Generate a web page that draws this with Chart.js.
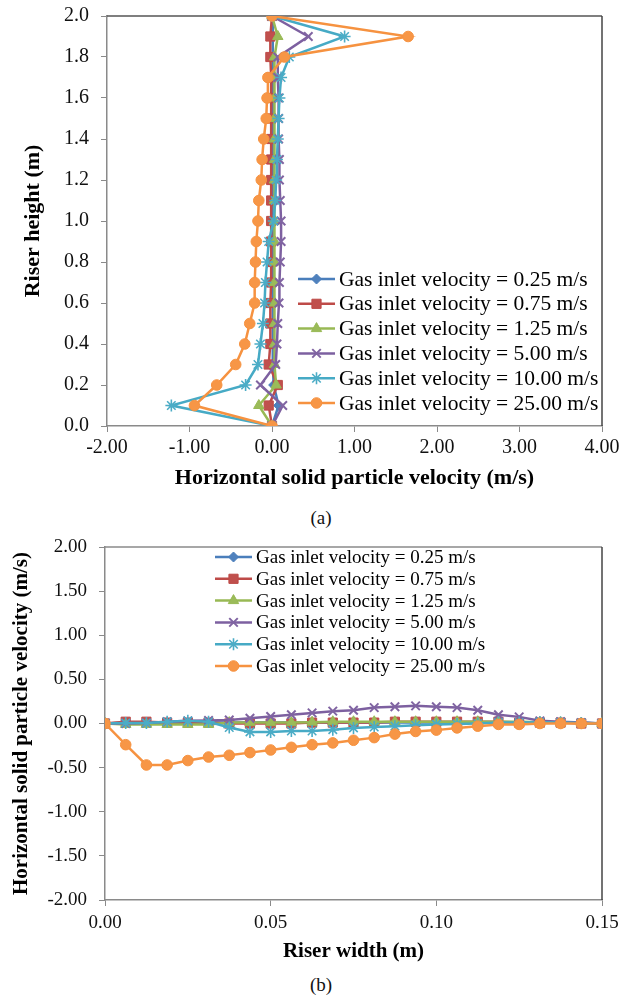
<!DOCTYPE html>
<html>
<head>
<meta charset="utf-8">
<script src="https://cdn.jsdelivr.net/npm/chart.js@4/dist/chart.umd.min.js"></script>
<style>
  html, body { margin: 0; padding: 0; background: #fff; }
  body { width: 637px; height: 1002px; position: relative; overflow: hidden;
         font-family: "Liberation Serif", "Times New Roman", serif; }
  canvas { position: absolute; left: 0; }
  #riserHeight { top: 0; }
  #riserWidth { top: 530px; }
  .cap { position: absolute; left: 0; width: 642px; text-align: center; font-size: 19px; color: #111; line-height: 20px; }
</style>
</head>
<body>
<canvas id="riserHeight" width="637" height="505"></canvas>
<div class="cap" style="top:508px">(a)</div>
<canvas id="riserWidth" width="637" height="440"></canvas>
<div class="cap" style="top:975px">(b)</div>

<script>
// ---- (a) horizontal particle velocity along the riser height ----
const heights = [0.0, 0.1, 0.2, 0.3, 0.4, 0.5, 0.6, 0.7, 0.8, 0.9, 1.0,
                 1.1, 1.2, 1.3, 1.4, 1.5, 1.6, 1.7, 1.8, 1.9, 2.0];
const heightV025 = [0, 0.08, 0.02, 0.01, 0.01, 0.01, 0.01, 0.01, 0.01, 0.01, 0.01,
                    0.01, 0.01, 0.01, 0.01, 0.01, 0.01, 0.01, 0.01, 0.01, 0];
const heightV075 = [0, -0.04, 0.07, -0.04, -0.02, -0.02, -0.02, -0.01, -0.01, -0.01, -0.01,
                    -0.01, -0.01, -0.01, -0.01, -0.01, -0.01, -0.01, -0.02, -0.02, 0];
const heightV125 = [0, -0.16, 0.05, 0.03, 0.03, 0.03, 0.03, 0.03, 0.03, 0.03, 0.03,
                    0.03, 0.03, 0.03, 0.03, 0.03, 0.03, 0.03, 0.03, 0.07, 0];
const heightV500 = [0, 0.13, -0.14, 0.045, 0.06, 0.07, 0.085, 0.09, 0.10, 0.11, 0.11,
                    0.10, 0.09, 0.09, 0.08, 0.08, 0.08, 0.07, 0.07, 0.44, 0];
const heightV1000 = [0, -1.22, -0.32, -0.17, -0.14, -0.11, -0.09, -0.08, -0.06, -0.04, 0.02,
                     0.04, 0.05, 0.06, 0.07, 0.08, 0.09, 0.11, 0.21, 0.88, 0];
const heightV2500 = [0, -0.94, -0.67, -0.44, -0.33, -0.27, -0.21, -0.21, -0.20, -0.19, -0.17,
                     -0.16, -0.13, -0.12, -0.10, -0.07, -0.06, -0.05, 0.15, 1.65, 0];

// ---- (b) horizontal particle velocity across the riser width ----
const widths = [0, 0.00625, 0.0125, 0.01875, 0.025, 0.03125, 0.0375, 0.04375, 0.05,
                0.05625, 0.0625, 0.06875, 0.075, 0.08125, 0.0875, 0.09375, 0.1,
                0.10625, 0.1125, 0.11875, 0.125, 0.13125, 0.1375, 0.14375, 0.15];
const widthV025 = [0, 0.01, 0.01, 0.01, 0.01, 0.01, 0.01, 0.01, 0.01, 0.01, 0.01, 0.01, 0.01,
                   0.01, 0.01, 0.01, 0.01, 0.01, 0.01, 0.01, 0.01, 0.01, 0.01, 0.01, 0];
const widthV075 = [0, 0.02, 0.02, 0.01, 0.01, 0.01, 0, 0, 0, 0, 0.01, 0.01, 0.01,
                   0.01, 0.02, 0.02, 0.02, 0.02, 0.02, 0.02, 0.01, 0.01, 0.01, 0, 0];
const widthV125 = [0, -0.01, -0.01, -0.01, -0.01, -0.01, 0.01, 0.01, 0.01, 0.01, 0.015, 0.02, 0.02,
                   0.02, 0.02, 0.02, 0.02, 0.02, 0.02, 0.02, 0.02, 0.015, 0.01, 0.005, 0];
const widthV500 = [0, 0, 0.005, 0.02, 0.03, 0.035, 0.04, 0.06, 0.08, 0.10, 0.12, 0.14, 0.15,
                   0.18, 0.19, 0.20, 0.19, 0.18, 0.15, 0.10, 0.075, 0.03, 0.02, 0.01, 0];
const widthV1000 = [0, 0.005, 0.005, 0.02, 0.03, 0.02, -0.045, -0.095, -0.095, -0.085, -0.085, -0.07, -0.05,
                    -0.04, -0.03, -0.02, -0.01, -0.005, 0, 0.01, 0.01, 0.015, 0.01, 0.005, 0];
const widthV2500 = [0, -0.24, -0.47, -0.47, -0.42, -0.38, -0.36, -0.33, -0.30, -0.27, -0.24, -0.22, -0.19,
                    -0.16, -0.12, -0.09, -0.075, -0.05, -0.03, -0.01, -0.01, 0, 0, 0, 0];

const seriesLabels = [
  'Gas inlet velocity = 0.25 m/s',
  'Gas inlet velocity = 0.75 m/s',
  'Gas inlet velocity = 1.25 m/s',
  'Gas inlet velocity = 5.00 m/s',
  'Gas inlet velocity = 10.00 m/s',
  'Gas inlet velocity = 25.00 m/s'
];

const FONT = "'Liberation Serif', 'Times New Roman', serif";
const AXIS_GREY = '#8a8a8a';

// line colour, marker fill, marker style, marker radius
const looks = [
  { line: '#4A7EBB', fill: '#4F81BD', style: 'rectRot',  r: 5,   bw: 1 },
  { line: '#BE4B48', fill: '#C0504D', style: 'rect',     r: 6.5, bw: 1 },
  { line: '#98B954', fill: '#9BBB59', style: 'triangle', r: 6,   bw: 1 },
  { line: '#7D60A0', fill: '#8064A2', style: 'crossRot', r: 6,   bw: 2 },
  { line: '#46AAC5', fill: '#4BACC6', style: 'star',     r: 6,   bw: 1.6 },
  { line: '#F69240', fill: '#F79646', style: 'circle',   r: 5.3, bw: 1 }
];

function makeDatasets(xs, ys, lists, swap) {
  return lists.map((vals, i) => {
    const lk = looks[i];
    return {
      label: seriesLabels[i],
      data: vals.map((v, k) => swap ? { x: v, y: ys[k] } : { x: xs[k], y: v }),
      showLine: true,
      borderColor: lk.line,
      borderWidth: 2.5,
      pointStyle: lk.style,
      pointRadius: lk.r,
      pointHoverRadius: lk.r,
      pointBackgroundColor: lk.fill,
      pointBorderColor: lk.style === 'crossRot' || lk.style === 'star' ? lk.fill : lk.line,
      pointBorderWidth: lk.bw,
      tension: 0,
      order: lists.length - 1 - i
    };
  });
}

// Legend with a line segment and marker per series, placed freely
const placedLegend = {
  id: 'placedLegend',
  afterDatasetsDraw(chart, args, opts) {
    const ctx = chart.ctx;
    ctx.save();
    chart.data.datasets.forEach((ds, i) => {
      const y = opts.y + i * opts.gap;
      ctx.strokeStyle = ds.borderColor;
      ctx.lineWidth = ds.borderWidth;
      ctx.beginPath();
      ctx.moveTo(opts.x, y);
      ctx.lineTo(opts.x + opts.len, y);
      ctx.stroke();
      ctx.fillStyle = ds.pointBackgroundColor;
      ctx.strokeStyle = ds.pointBorderColor;
      ctx.lineWidth = ds.pointBorderWidth;
      Chart.helpers.drawPoint(ctx, {
        pointStyle: ds.pointStyle, radius: ds.pointRadius, rotation: 0,
        borderWidth: ds.pointBorderWidth
      }, opts.x + opts.len / 2, y);
      ctx.fillStyle = '#000';
      ctx.font = opts.font;
      ctx.textAlign = 'left';
      ctx.textBaseline = 'middle';
      ctx.fillText(ds.label, opts.x + opts.len + opts.pad, y + 1);
    });
    ctx.restore();
  }
};

// Plot-area frame lines on the top and right edges
const frameEdges = {
  id: 'frameEdges',
  beforeDatasetsDraw(chart, args, opts) {
    const { ctx, chartArea: a } = chart;
    ctx.save();
    ctx.lineWidth = 1.5;
    ctx.strokeStyle = opts.topColor;
    ctx.beginPath();
    ctx.moveTo(a.left, a.top);
    ctx.lineTo(a.right, a.top);
    ctx.stroke();
    ctx.strokeStyle = opts.rightColor;
    ctx.beginPath();
    ctx.moveTo(a.right, a.top);
    ctx.lineTo(a.right, a.bottom);
    ctx.stroke();
    ctx.restore();
  }
};

function axis(cfg) {
  return {
    type: 'linear',
    min: cfg.min, max: cfg.max,
    afterFit(scale) {
      if (cfg.width !== undefined) scale.width = cfg.width;
      if (cfg.height !== undefined) scale.height = cfg.height;
      // plot area comes from layout padding alone
      scale.paddingTop = 0;
      scale.paddingBottom = 0;
      scale.paddingLeft = 0;
      scale.paddingRight = 0;
    },
    ticks: {
      stepSize: cfg.step,
      autoSkip: false,
      maxRotation: 0,
      padding: cfg.tickPad,
      color: '#111',
      font: { family: FONT, size: cfg.tickSize },
      callback: v => Number(v).toFixed(cfg.dec)
    },
    grid: { display: true, drawOnChartArea: false, drawTicks: true, tickLength: 6, color: AXIS_GREY },
    border: { display: true, color: AXIS_GREY, width: 1.5 },
    title: {
      display: true, text: cfg.title, color: '#000',
      font: { family: FONT, size: cfg.titleSize, weight: 'bold' },
      padding: cfg.titlePad
    }
  };
}

Chart.defaults.font.family = FONT;
Chart.defaults.color = '#000';

new Chart(document.getElementById('riserHeight'), {
  type: 'scatter',
  data: {
    datasets: makeDatasets(null, heights,
      [heightV025, heightV075, heightV125, heightV500, heightV1000, heightV2500], true)
  },
  options: {
    responsive: false,
    animation: false,
    devicePixelRatio: 1,
    layout: { padding: { left: 0, top: 16, right: 35, bottom: 0 } },
    plugins: {
      legend: { display: false },
      tooltip: { enabled: false },
      placedLegend: { x: 298, len: 37, pad: 4, y: 279, gap: 24.8, font: "21.5px " + FONT },
      frameEdges: { topColor: '#555', rightColor: '#444' }
    },
    scales: {
      x: axis({ min: -2, max: 4, step: 1, dec: 2, height: 79, tickPad: 4, tickSize: 20,
                titleSize: 22, title: 'Horizontal solid particle velocity (m/s)',
                titlePad: { top: 0, bottom: 13 } }),
      y: axis({ min: 0, max: 2, step: 0.2, dec: 1, width: 107, tickPad: 12, tickSize: 20,
                titleSize: 22, title: 'Riser height (m)', titlePad: { top: 20, bottom: 0 } })
    }
  },
  plugins: [placedLegend, frameEdges]
});

new Chart(document.getElementById('riserWidth'), {
  type: 'scatter',
  data: {
    datasets: makeDatasets(widths, null,
      [widthV025, widthV075, widthV125, widthV500, widthV1000, widthV2500], false)
  },
  options: {
    responsive: false,
    animation: false,
    devicePixelRatio: 1,
    layout: { padding: { left: 0, top: 17, right: 35, bottom: 0 } },
    plugins: {
      legend: { display: false },
      tooltip: { enabled: false },
      placedLegend: { x: 215, len: 37, pad: 4, y: 27, gap: 21.8, font: "19px " + FONT },
      frameEdges: { topColor: AXIS_GREY, rightColor: '#444' }
    },
    scales: {
      x: axis({ min: 0, max: 0.15, step: 0.05, dec: 2, height: 70, tickPad: 6, tickSize: 19,
                titleSize: 21, title: 'Riser width (m)', titlePad: { top: 0, bottom: 6 } }),
      y: axis({ min: -2, max: 2, step: 0.5, dec: 2, width: 105, tickPad: 12, tickSize: 19,
                titleSize: 21, title: 'Horizontal solid particle velocity (m/s)',
                titlePad: { top: 9, bottom: 0 } })
    }
  },
  plugins: [placedLegend, frameEdges]
});
</script>
</body>
</html>
